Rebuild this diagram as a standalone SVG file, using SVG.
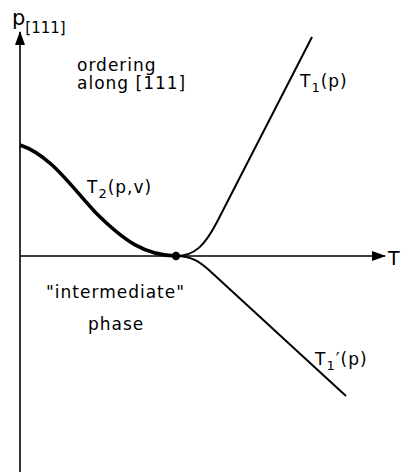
<svg xmlns="http://www.w3.org/2000/svg" width="401" height="472" viewBox="0 0 401 472">
<style>
text{font-family:"DejaVu Sans","Liberation Sans",sans-serif;fill:#000}
.lbl{font-size:17px;letter-spacing:1px}
.sub{font-size:13px}
.psub{font-size:15px}
.ax{stroke:#000;stroke-width:1.6;fill:none}
.cv{stroke:#000;stroke-width:2;fill:none}
</style>
<defs>
<marker id="arr" viewBox="0 0 14 10" refX="13" refY="5" markerWidth="14" markerHeight="10" markerUnits="userSpaceOnUse" orient="auto">
<path d="M0,0 L14,5 L0,10 Z" fill="#000"/>
</marker>
</defs>
<g id="connectors">
<line class="ax" x1="20" y1="472" x2="20" y2="32" marker-end="url(#arr)"/>
<line class="ax" x1="20" y1="256" x2="385" y2="256" marker-end="url(#arr)"/>
<path id="T2curve" d="M20,145 C50,155 70,185 95,212 C125,242 145,255 176,256" stroke="#000" stroke-width="3.6" fill="none"/>
<path id="T1curve" class="cv" d="M176,256 C195,256 205,245 217,222 L312,37"/>
<path id="T1pcurve" class="cv" d="M176,256 C192,256 200,262 210,271 L346,396"/>
</g>
<g id="point"><circle cx="176" cy="256" r="4.2" fill="#000"/></g>
<g id="axis-p"><text x="12" y="25" font-size="21">p<tspan class="psub" dy="8">[111]</tspan></text></g>
<g id="axis-T"><text x="388" y="265" font-size="19">T</text></g>
<g id="ordering"><text class="lbl" x="77" y="71">ordering</text><text class="lbl" x="77" y="89">along [111]</text></g>
<g id="intermediate"><text class="lbl" x="46" y="298">"intermediate"</text><text class="lbl" x="88" y="330">phase</text></g>
<g id="T1"><text class="lbl" x="300" y="87">T<tspan class="sub" dy="5">1</tspan><tspan dy="-5">(p)</tspan></text></g>
<g id="T2"><text class="lbl" x="87" y="193">T<tspan class="sub" dy="5">2</tspan><tspan dy="-5">(p,v)</tspan></text></g>
<g id="T1p"><text class="lbl" x="315" y="365">T<tspan class="sub" dy="5">1</tspan><tspan dy="-5">′(p)</tspan></text></g>
</svg>
